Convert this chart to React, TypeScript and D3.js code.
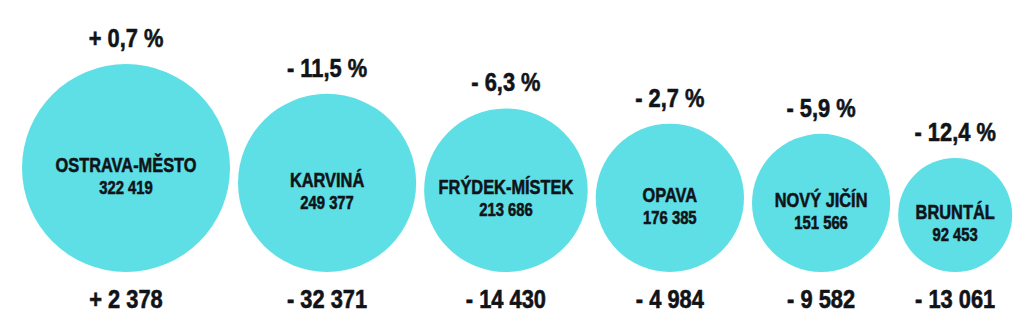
import React from "react";
import * as d3 from "d3";

const districts = ["OSTRAVA-MĚSTO", "KARVINÁ", "FRÝDEK-MÍSTEK", "OPAVA", "NOVÝ JIČÍN", "BRUNTÁL"];
const population = [322419, 249377, 213686, 176385, 151566, 92453];
const changePct = [0.7, -11.5, -6.3, -2.7, -5.9, -12.4];
const changeAbs = [2378, -32371, -14430, -4984, -9582, -13061];

const W = 1024;
const H = 329;
const FONT = "'Liberation Sans', Arial, sans-serif";
const CYAN = "#5edfe6";
const INK = "#101418";

const locale = d3.formatLocale({ decimal: ",", thousands: " ", grouping: [3], currency: ["", ""] });
const fmtInt = locale.format(",d");
const fmtPct = locale.format(".1f");
const sign = (v: number) => (v >= 0 ? "+ " : "- ");

function Label({ x, y, size, sx, children }: { x: number; y: number; size: number; sx: number; children: React.ReactNode }) {
  return (
    <text
      transform={`translate(${x},${y}) scale(${sx},1)`}
      textAnchor="middle"
      fontSize={size}
      fill={INK}
      stroke={INK}
      strokeWidth={0.6}
    >
      {children}
    </text>
  );
}

export default function App() {
  const r = d3.scaleLinear().domain([d3.min(population)!, d3.max(population)!]).range([57, 104]);
  const left = 22;
  const gap = 8;
  const bottom = 272;

  const nodes: { cx: number; cy: number; rad: number; i: number }[] = [];
  let x = left;
  population.forEach((p, i) => {
    const rad = r(p);
    const cx = x + rad;
    nodes.push({ cx, cy: bottom - rad, rad, i });
    x = cx + rad + gap;
  });

  return (
    <svg
      width={W}
      height={H}
      style={{ position: "absolute", left: 0, top: 0, background: "#fff" }}
      fontFamily={FONT}
      fontWeight="bold"
    >
      {nodes.map(({ cx, cy, rad, i }) => (
        <g key={districts[i]}>
          <circle cx={cx} cy={cy} r={rad} fill={CYAN} />
          <Label x={cx} y={cy - rad - 17} size={26} sx={0.84}>
            {sign(changePct[i]) + fmtPct(Math.abs(changePct[i])) + " %"}
          </Label>
          <Label x={cx} y={cy + 4} size={21} sx={0.78}>
            {districts[i]}
          </Label>
          <Label x={cx} y={cy + 26} size={19} sx={0.78}>
            {fmtInt(population[i])}
          </Label>
          <Label x={cx} y={308} size={26} sx={0.84}>
            {sign(changeAbs[i]) + fmtInt(Math.abs(changeAbs[i]))}
          </Label>
        </g>
      ))}
    </svg>
  );
}
